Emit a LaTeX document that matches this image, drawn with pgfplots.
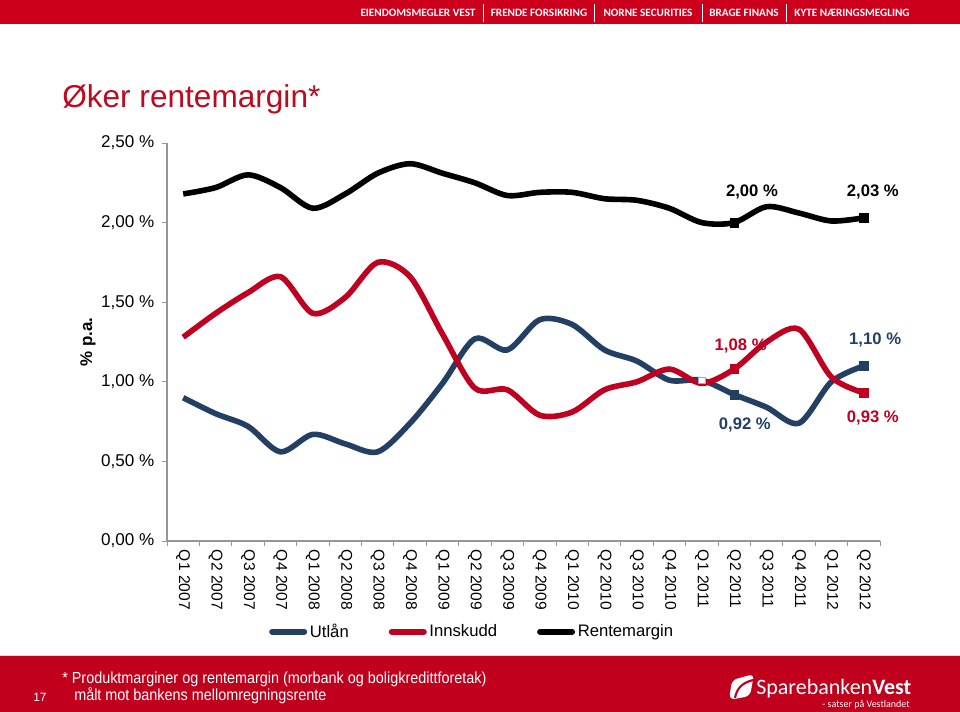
\documentclass[border=0pt]{standalone}
\usepackage{pgfplots}
\pgfplotsset{compat=1.18}
\usepackage{graphicx}
\usepackage{fontspec}
\setmainfont{Liberation Sans}[BoldFont={Liberation Sans Bold}]
\newfontfamily\carlito{Carlito}[BoldFont={Carlito Bold}]
\definecolor{sbred}{RGB}{204,0,28}
\definecolor{footred}{RGB}{192,0,28}
\definecolor{titlered}{RGB}{190,10,30}
\definecolor{utlan}{RGB}{35,64,100}
\definecolor{innskudd}{RGB}{192,0,32}
\definecolor{axgray}{RGB}{150,150,150}
\definecolor{lightblue}{RGB}{140,170,210}
\begin{document}
\begin{tikzpicture}
\begin{scope}[x=0.75pt,y=-0.75pt]
\useasboundingbox (0,0) rectangle (960,712);
\fill[white] (0,0) rectangle (960,712);
% header
\fill[sbred] (0,0) rectangle (960,24);
\begin{scope}[every node/.style={text=white, font=\carlito\bfseries\fontsize{8.4}{10}\selectfont, inner sep=0, anchor=center}]
\node at (418,13) {EIENDOMSMEGLER VEST};
\node at (539,13) {FRENDE FORSIKRING};
\node at (648,13) {NORNE SECURITIES};
\node at (744,13) {BRAGE FINANS};
\node at (852,13) {KYTE NÆRINGSMEGLING};
\end{scope}
\foreach \sx in {483,594,702,786} {\draw[white, line width=0.5pt] (\sx,4) -- (\sx,22);}
% title
\node[anchor=base west, text=titlered, font=\fontsize{23.7}{26}\selectfont, inner sep=0] at (62,108) {Øker rentemargin*};
% y label
\node[rotate=90, font=\bfseries\fontsize{12.7}{14}\selectfont, inner sep=0] at (88,342) {\% p.a.};
% footer
\fill[footred] (0,656) rectangle (960,712);
\draw[black!15, line width=0.8pt] (0,655.5) -- (960,655.5);
\node[anchor=base west, text=white, font=\fontsize{12}{14}\selectfont, inner sep=0] at (62,683) {\scalebox{0.9}[1]{* Produktmarginer og rentemargin (morbank og boligkredittforetak)}};
\node[anchor=base west, text=white, font=\fontsize{12}{14}\selectfont, inner sep=0] at (74,700) {\scalebox{0.9}[1]{målt mot bankens mellomregningsrente}};
\node[anchor=base west, text=white, font=\fontsize{9}{11}\selectfont, inner sep=0] at (33,701) {17};
% logo
\fill[white, rounded corners=4pt] (729,700) -- (732,680) -- (754,674) -- (750,696) -- cycle;
\draw[footred, line width=1.6pt] (735,698) .. controls (737,688) and (742,683) .. (753,680);
\node[anchor=base west, text=white, font=\carlito\fontsize{16.5}{18}\selectfont, inner sep=0] at (756,694) {Sparebanken\textbf{Vest}};
\node[anchor=base east, text=white, font=\carlito\fontsize{7.5}{9}\selectfont, inner sep=0] at (910,707) {- satser på Vestlandet};
\end{scope}
\begin{axis}[
  at={(125.25pt,-405.75pt)}, anchor=south west,
  scale only axis, width=534.75pt, height=298.5pt,
  xmin=-0.5, xmax=21.5, ymin=0, ymax=2.5,
  axis x line*=bottom, axis y line*=left,
  axis line style={draw=axgray, line width=0.8pt},
  clip=false,
  tick align=outside,
  xtick={0,...,21},
  xticklabels={Q1 2007,Q2 2007,Q3 2007,Q4 2007,Q1 2008,Q2 2008,Q3 2008,Q4 2008,Q1 2009,Q2 2009,Q3 2009,Q4 2009,Q1 2010,Q2 2010,Q3 2010,Q4 2010,Q1 2011,Q2 2011,Q3 2011,Q4 2011,Q1 2012,Q2 2012},
  major x tick style={draw=none},
  minor xtick={-0.5,0.5,...,21.5},
  minor tick length=4pt,
  minor x tick style={draw=axgray, line width=0.6pt},
  xticklabel style={rotate=-90, anchor=west, font=\fontsize{11.7}{13}\selectfont, inner sep=0pt},
  xticklabel shift=2.5pt,
  ytick={0,0.5,...,2.5},
  major tick length=4pt,
  major y tick style={draw=axgray, line width=0.6pt},
  yticklabel={\pgfmathprintnumber[fixed,fixed zerofill,precision=2,use comma]{\tick}\ \%},
  yticklabel style={font=\fontsize{12.8}{14}\selectfont, /pgf/number format/assume math mode=true},
  yticklabel shift=2pt,
  legend style={at={(0.4285,-0.228)}, anchor=center, draw=none, fill=none, legend columns=3,
    font=\fontsize{12.5}{14}\selectfont, /tikz/every even column/.append style={column sep=28pt}, inner sep=0pt},
  legend image code/.code={\draw[#1, line width=4.5pt, line cap=round] (2pt,0pt) -- (26pt,0pt);},
]
\addplot[utlan, line width=4.2pt, smooth, tension=0.5] coordinates {
(0,0.90)(1,0.80)(2,0.72)(3,0.56)(4,0.67)(5,0.61)(6,0.56)(7,0.74)(8,0.99)(9,1.27)(10,1.20)
(11,1.39)(12,1.36)(13,1.20)(14,1.13)(15,1.01)(16,1.01)(17,0.92)(18,0.84)(19,0.74)(20,1.00)(21,1.10)};
\addlegendentry{Utlån}
\addplot[forget plot, only marks, mark=square*, mark size=2.4pt, draw=lightblue, fill=white, line width=0.6pt] coordinates {(16,1.01)};
\begin{scope}[every node/.style={font=\bfseries\fontsize{12.5}{14}\selectfont, inner sep=0}]
\node[text=innskudd] at (axis cs:17.2,1.225) {1,08 \%};
\end{scope}
\addplot[innskudd, line width=4.2pt, smooth, tension=0.5] coordinates {
(0,1.28)(1,1.43)(2,1.56)(3,1.66)(4,1.43)(5,1.53)(6,1.75)(7,1.66)(8,1.30)(9,0.96)(10,0.95)
(11,0.79)(12,0.81)(13,0.95)(14,1.00)(15,1.08)(16,0.99)(17,1.08)(18,1.25)(19,1.33)(20,1.03)(21,0.93)};
\addlegendentry{Innskudd}
\addplot[black, line width=4.2pt, smooth, tension=0.5] coordinates {
(0,2.18)(1,2.22)(2,2.30)(3,2.22)(4,2.09)(5,2.18)(6,2.31)(7,2.37)(8,2.31)(9,2.25)(10,2.17)
(11,2.19)(12,2.19)(13,2.15)(14,2.14)(15,2.09)(16,2.00)(17,2.00)(18,2.10)(19,2.06)(20,2.01)(21,2.03)};
\addlegendentry{Rentemargin}
\addplot[forget plot, only marks, mark=square*, mark size=3.3pt, utlan] coordinates {(17,0.92)(21,1.10)};
\addplot[forget plot, only marks, mark=square*, mark size=3.3pt, innskudd] coordinates {(17,1.08)(21,0.93)};
\addplot[forget plot, only marks, mark=square*, mark size=3.3pt, black] coordinates {(17,2.00)(21,2.03)};
\begin{scope}[every node/.style={font=\bfseries\fontsize{12.5}{14}\selectfont, inner sep=0}]
\node[text=black] at (axis cs:17.55,2.19) {2,00 \%};
\node[text=black] at (axis cs:21.28,2.19) {2,03 \%};
\node[text=utlan] at (axis cs:21.35,1.265) {1,10 \%};
\node[text=utlan] at (axis cs:17.33,0.73) {0,92 \%};
\node[text=innskudd] at (axis cs:21.28,0.77) {0,93 \%};
\end{scope}
\end{axis}
\end{tikzpicture}
\end{document}
